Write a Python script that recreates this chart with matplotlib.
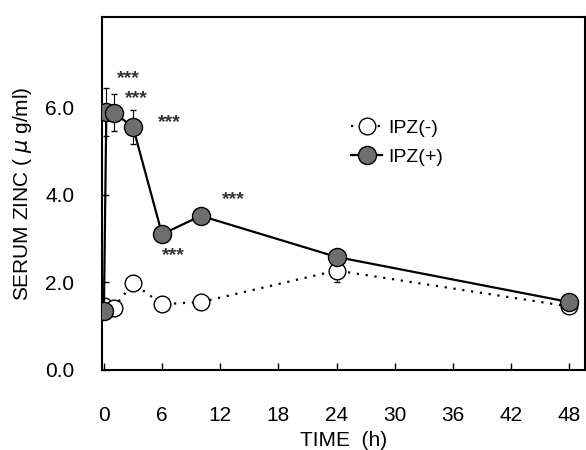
import numpy as np
import matplotlib.pyplot as plt

plt.rcParams['font.family'] = ['Liberation Sans', 'DejaVu Sans']

# IPZ(-) : control
t_neg = [0, 1, 3, 6, 10, 24, 48]
zn_neg = [1.45, 1.42, 1.98, 1.5, 1.55, 2.27, 1.45]
err_neg = [0.08, 0.08, 0.12, 0.08, 0.15, 0.27, 0.08]

# IPZ(+)
t_pos = [0, 0.25, 1, 3, 6, 10, 24, 48]
zn_pos = [1.35, 5.9, 5.88, 5.55, 3.1, 3.52, 2.58, 1.55]
err_pos = [0.08, 0.55, 0.42, 0.38, 0.1, 0.12, 0.1, 0.08]

# significance marks (x, y) in data units
star_x = [1.3, 2.2, 5.6, 6.0, 12.2]
star_y = [6.65, 6.2, 5.65, 2.62, 3.9]

fig = plt.figure(figsize=(5.86, 4.5), dpi=100)
ax = fig.add_axes([0.174, 0.178, 0.824, 0.784])

ax.errorbar(t_neg, zn_neg, yerr=err_neg, color='black', ls='none',
            elinewidth=0.8, capsize=2.5, zorder=2)
ax.plot(t_neg, zn_neg, color='black', ls=(0, (1, 3)), lw=1.6,
        marker='o', ms=12, mfc='white', mec='black', mew=1.0,
        label='IPZ(-)', zorder=2)
ax.errorbar(t_pos, zn_pos, yerr=err_pos, color='black', ls='none',
            elinewidth=0.8, capsize=2.5, zorder=3)
ax.plot(t_pos, zn_pos, color='black', ls='-', lw=1.6,
        marker='o', ms=13, mfc='#6e6e6e', mec='black', mew=1.0,
        label='IPZ(+)', zorder=3)

for x, y in zip(star_x, star_y):
    ax.text(x, y, '***', fontsize=14, fontweight='bold', ha='left', va='center',
            color='#333333')

ax.set_xlim(-0.2, 49.6)
ax.set_ylim(0, 8.06)
ax.set_xticks(np.arange(0, 49, 6))
ax.set_yticks([0, 2, 4, 6])
ax.set_yticklabels(['0.0', '2.0', '4.0', '6.0'])
ax.tick_params(direction='in', length=5, width=1, labelsize=15)
ax.tick_params(axis='x', pad=26)
ax.tick_params(axis='y', pad=20)
for s in ax.spines.values():
    s.set_linewidth(1.5)

ax.set_xlabel('TIME  (h)', fontsize=15, labelpad=4)
ax.set_ylabel('SERUM ZINC ( $\\mu$ g/ml)', fontsize=15, labelpad=8)

ax.legend(loc='upper left', bbox_to_anchor=(0.48, 0.76), frameon=False,
          fontsize=14, handlelength=1.6, handletextpad=0.3, labelspacing=0.6)

fig.savefig('out.png', dpi=100)
